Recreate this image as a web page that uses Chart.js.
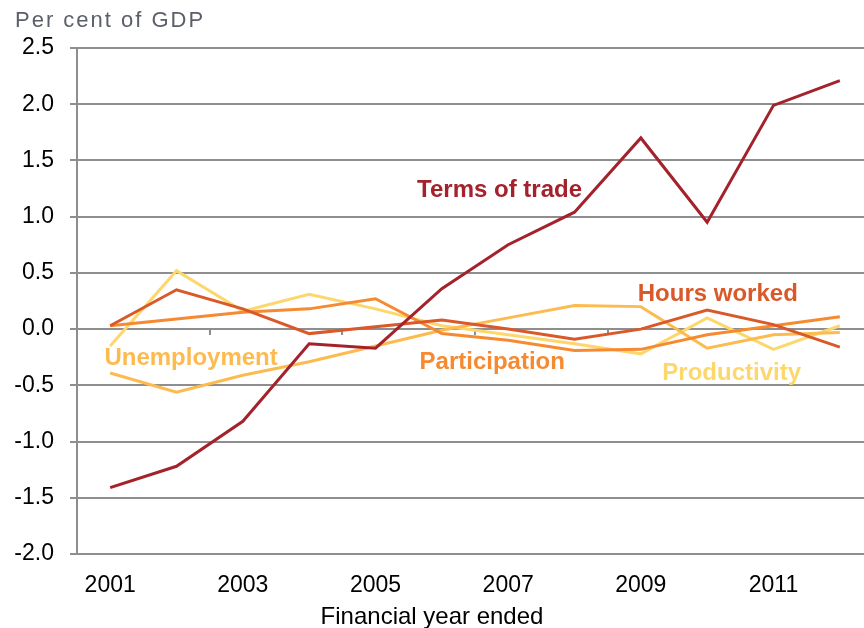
<!DOCTYPE html>
<html>
<head>
<meta charset="utf-8">
<script src="https://cdn.jsdelivr.net/npm/chart.js@4.4.1/dist/chart.umd.min.js"></script>
<style>
  html, body { margin: 0; padding: 0; background: #fff; overflow: hidden; }
  #wrap { position: relative; width: 873px; height: 628px; }
</style>
</head>
<body>
<div id="wrap"><canvas id="incomeChart"></canvas></div>
<script>
// financial years and contributions, per cent of GDP
var years = ['2001', '2002', '2003', '2004', '2005', '2006', '2007', '2008', '2009', '2010', '2011', '2012'];
var termsOfTrade = [-1.41, -1.22, -0.82, -0.13, -0.17, 0.36, 0.75, 1.04, 1.70, 0.95, 1.99, 2.21];
var hoursWorked = [0.03, 0.35, 0.18, -0.04, 0.02, 0.08, 0.00, -0.09, 0.00, 0.17, 0.04, -0.16];
var participation = [0.03, 0.09, 0.15, 0.18, 0.27, -0.04, -0.10, -0.19, -0.18, -0.05, 0.03, 0.11];
var unemployment = [-0.39, -0.56, -0.41, -0.29, -0.15, -0.01, 0.10, 0.21, 0.20, -0.17, -0.05, -0.03];
var productivity = [-0.15, 0.52, 0.16, 0.31, 0.18, 0.03, -0.05, -0.13, -0.22, 0.10, -0.18, 0.03];
var yTicks = [-2.0, -1.5, -1.0, -0.5, 0.0, 0.5, 1.0, 1.5, 2.0, 2.5];

var FONT = '"Liberation Sans", Arial, sans-serif';
var GRID = '#8e8e8e';

// where each series name sits, as [category index, value]
var labelSpots = [[5.87, 1.235], [9.16, 0.306], [5.76, -0.30], [1.22, -0.263], [9.37, -0.39]];

function line(label, data, color) {
  return {
    label: label,
    data: data,
    borderColor: color,
    backgroundColor: color,
    borderWidth: 3,
    pointRadius: 0,
    tension: 0,
    fill: false
  };
}

var chartNotes = {
  id: 'chartNotes',
  afterDatasetsDraw: function(chart) {
    var ctx = chart.ctx;
    var xs = chart.scales.x, ys = chart.scales.y;
    ctx.save();
    ctx.font = 'bold 24px ' + FONT;
    ctx.textAlign = 'center';
    ctx.textBaseline = 'middle';
    chart.data.datasets.forEach(function(ds, i) {
      var spot = labelSpots[i];
      ctx.fillStyle = ds.borderColor;
      ctx.fillText(ds.label, xs.getPixelForValue(spot[0]), ys.getPixelForValue(spot[1]));
    });

    ctx.textBaseline = 'alphabetic';
    ctx.fillStyle = '#000';
    ctx.font = '24px ' + FONT;
    ctx.fillText('Financial year ended', window.innerWidth / 2, 624);

    ctx.textAlign = 'left';
    ctx.fillStyle = '#5b6068';
    ctx.font = '22px ' + FONT;
    ctx.letterSpacing = '2px';
    ctx.fillText('Per cent of GDP', 15, 27);
    ctx.restore();
  }
};

Chart.defaults.font.family = FONT;

new Chart(document.getElementById('incomeChart'), {
  type: 'line',
  data: {
    labels: years,
    datasets: [
      line('Terms of trade', termsOfTrade, '#a3222c'),
      line('Hours worked', hoursWorked, '#d9592a'),
      line('Participation', participation, '#f68a31'),
      line('Unemployment', unemployment, '#fdbb4f'),
      line('Productivity', productivity, '#fdd76b')
    ]
  },
  options: {
    responsive: true,
    maintainAspectRatio: false,
    animation: false,
    layout: { padding: { left: 0, top: 48, right: 0, bottom: 0 } },
    plugins: {
      legend: { display: false },
      tooltip: { enabled: false }
    },
    scales: {
      x: {
        offset: true,
        afterFit: function(s) { s.height = 74; },
        grid: { display: false, drawTicks: false },
        border: { display: false },
        ticks: {
          autoSkip: false,
          maxRotation: 0,
          padding: 18,
          color: '#000',
          font: { size: 23 },
          callback: function(v, i) { return i % 2 === 0 ? this.getLabelForValue(v) : ''; }
        }
      },
      xMarks: {
        type: 'category',
        labels: years,
        offset: true,
        position: { y: 0 },
        grid: {
          offset: true,
          drawOnChartArea: false,
          tickLength: 6,
          lineWidth: 2,
          color: function(c) { return c.index % 2 === 0 ? GRID : 'rgba(0,0,0,0)'; }
        },
        border: { display: false },
        ticks: { display: false }
      },
      y: {
        min: yTicks[0],
        max: yTicks[yTicks.length - 1],
        afterFit: function(s) { s.width = 77; },
        afterBuildTicks: function(axis) {
          axis.ticks = yTicks.map(function(v) { return { value: v }; });
        },
        ticks: {
          padding: 16,
          color: '#000',
          font: { size: 23 },
          callback: function(v) { return Number(v).toFixed(1); }
        },
        grid: { color: GRID, lineWidth: 2, tickLength: 7 },
        border: { color: GRID, width: 2 }
      }
    }
  },
  plugins: [chartNotes]
});
</script>
</body>
</html>
